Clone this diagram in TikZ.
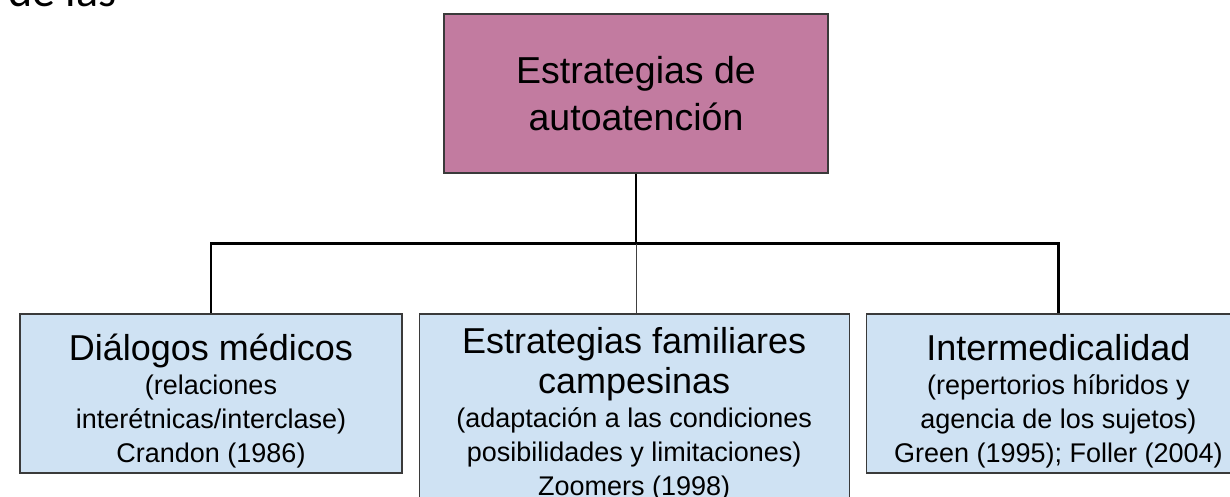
\documentclass[tikz,border=0pt]{standalone}
\usepackage{fontspec}
\setmainfont{Liberation Sans}
\newfontfamily\cuerpo{Carlito}
\usetikzlibrary{positioning}

\definecolor{malva}{HTML}{C27BA0}
\definecolor{celeste}{HTML}{CFE2F3}
\definecolor{borde}{HTML}{3A3A3A}

% tamaños de letra (con el espacio natural de la fuente)
\newcommand{\espacio}{\spaceskip=\fontdimen2\font\xspaceskip=\fontdimen2\font\relax}
\newcommand{\cabecera}{\fontsize{37.5}{47}\selectfont\espacio}
\newcommand{\encabezado}{\fontsize{36}{40}\selectfont\espacio}
\newcommand{\nota}{\fontsize{27}{34}\selectfont\espacio}
\newcommand{\bajar}{\par\vspace*{1pt}}

\begin{document}
\begin{tikzpicture}[x=1pt, y=1pt]
  \tikzset{
    caja/.style={
      rectangle,
      draw=borde,
      line width=1.2pt,
      inner sep=0pt,
      align=center},
    raiz/.style={
      caja,
      fill=malva,
      minimum width=384pt,
      minimum height=159pt,
      text width=370pt},
    hoja/.style={
      caja,
      fill=celeste,
      minimum height=159pt},
    rama/.style={
      black,
      line width=2.4pt}}

  \useasboundingbox (0,0) rectangle (1230,-497);
  \clip (0,0) rectangle (1230,-497);

  \node[anchor=base west, inner sep=0pt, font=\cuerpo\fontsize{46}{50}\selectfont] (intro) at (8,-7) {de las};

  \node[raiz] (raiz) at (636,-93.5) {\cabecera Estrategias de\\ autoatención\par};

  \node[hoja, minimum width=382pt, text width=370pt] (dialogos) at (211,-393.5)
    {\bajar\encabezado Diálogos médicos\par
     \nota (relaciones\\ interétnicas/interclase)\\ Crandon (1986)\par};
  \node[hoja, minimum width=430pt, minimum height=200pt, text width=420pt] (familiares)
    [below right=0pt and 16pt of dialogos.north east]
    {\encabezado Estrategias familiares\\ campesinas\par
     \nota (adaptación a las condiciones\\ posibilidades y limitaciones)\\ Zoomers (1998)\par};
  \node[hoja, minimum width=384pt, text width=370pt] (intermed)
    [below right=0pt and 16pt of familiares.north east]
    {\bajar\encabezado Intermedicalidad\par
     \nota (repertorios híbridos y\\ agencia de los sujetos)\\ Green (1995); Foller (2004)\par};

  \coordinate[below=70pt of raiz.south] (bus);

  \draw[rama, line width=2.8pt] (raiz.south) -- (bus);
  \draw[rama] (dialogos.north) |- (bus) -| (intermed.north);
  \draw[black!75, line width=0.9pt] (bus) -- (bus |- familiares.north);

\end{tikzpicture}
\end{document}
